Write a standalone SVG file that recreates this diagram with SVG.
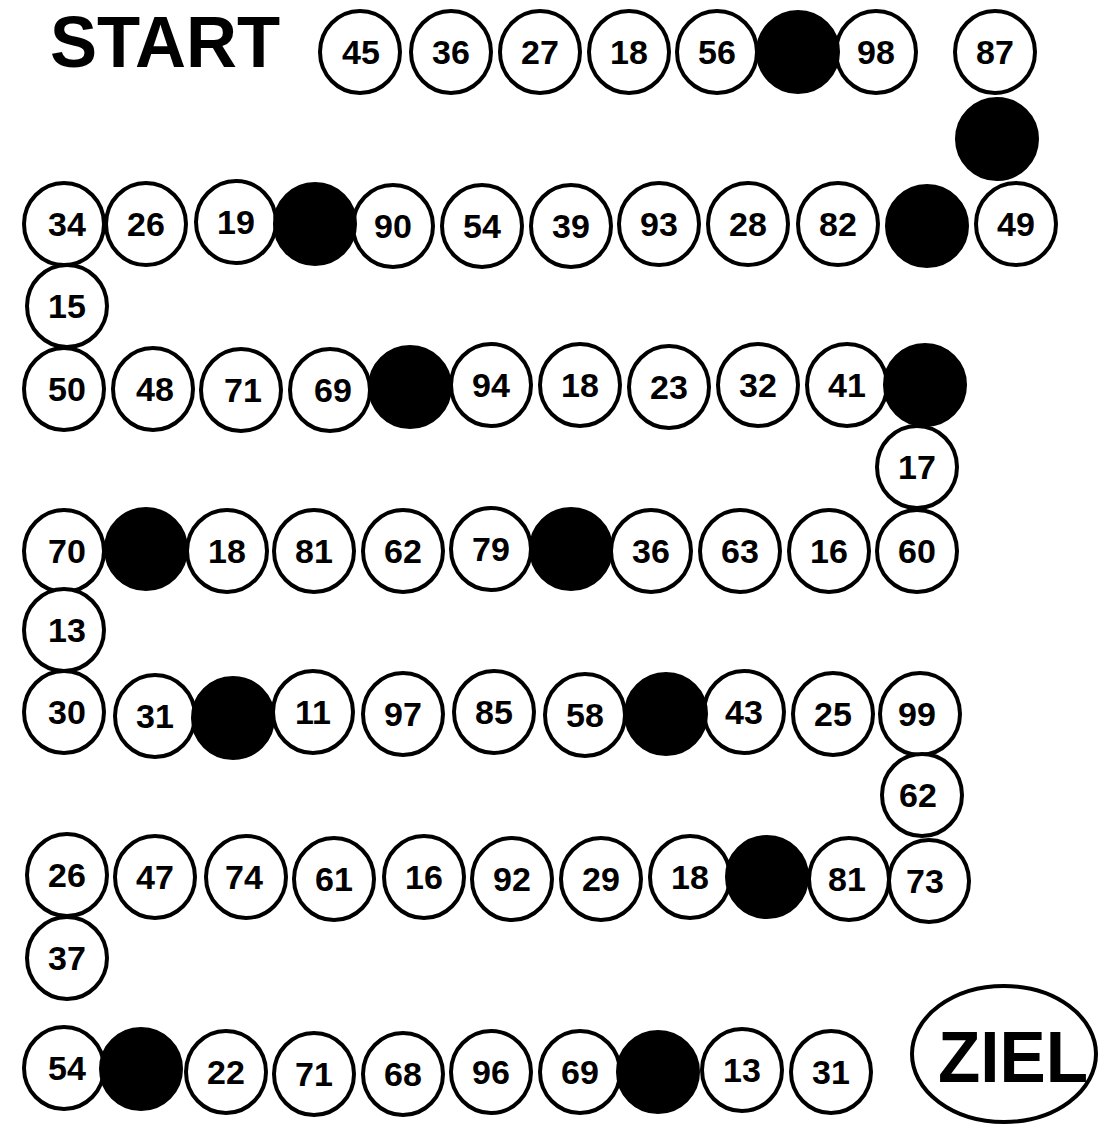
<svg xmlns="http://www.w3.org/2000/svg" width="1100" height="1126" viewBox="0 0 1100 1126">
<style>
.c{fill:#fff;stroke:#000;stroke-width:4}
.b{fill:#000;stroke:#000;stroke-width:2}
.t{font-family:"Liberation Sans",Arial,sans-serif;font-weight:bold;font-size:34px;text-anchor:middle;fill:#000}
.big{font-family:"Liberation Sans",Arial,sans-serif;font-weight:bold;font-size:72px;fill:#000}
</style>
<defs>
<ellipse id="w" class="c" cx="0" cy="0" rx="40" ry="41"/>
<ellipse id="k" class="b" cx="0" cy="0" rx="41" ry="41"/>
</defs>
<text class="big" x="50" y="67" textLength="230" lengthAdjust="spacingAndGlyphs">START</text>
<g id="whites">
<g id="n45" transform="translate(360,52)"><use href="#w"/><text class="t" x="1" y="12">45</text></g>
<g id="n36" transform="translate(451,52)"><use href="#w"/><text class="t" y="12">36</text></g>
<g id="n27" transform="translate(540,52)"><use href="#w"/><text class="t" y="12">27</text></g>
<g id="n18a" transform="translate(629,52)"><use href="#w"/><text class="t" y="12">18</text></g>
<g id="n56" transform="translate(717,52)"><use href="#w"/><text class="t" y="12">56</text></g>
<g id="n98" transform="translate(876,52)"><use href="#w"/><text class="t" y="12">98</text></g>
<g id="n87" transform="translate(995,52)"><use href="#w"/><text class="t" y="12">87</text></g>

<g id="n34" transform="translate(64,224)"><use href="#w"/><text class="t" x="3" y="12">34</text></g>
<g id="n26a" transform="translate(146,224)"><use href="#w"/><text class="t" y="12">26</text></g>
<g id="n19" transform="translate(236,222)"><use href="#w"/><text class="t" y="12">19</text></g>
<g id="n90" transform="translate(393,226)"><use href="#w"/><text class="t" y="12">90</text></g>
<g id="n54a" transform="translate(482,226)"><use href="#w"/><text class="t" y="12">54</text></g>
<g id="n39" transform="translate(571,226)"><use href="#w"/><text class="t" y="12">39</text></g>
<g id="n93" transform="translate(659,224)"><use href="#w"/><text class="t" y="12">93</text></g>
<g id="n28" transform="translate(748,224)"><use href="#w"/><text class="t" y="12">28</text></g>
<g id="n82" transform="translate(838,224)"><use href="#w"/><text class="t" y="12">82</text></g>
<g id="n49" transform="translate(1016,224)"><use href="#w"/><text class="t" y="12">49</text></g>

<g id="n15" transform="translate(67,306)"><use href="#w"/><text class="t" y="12">15</text></g>

<g id="n50" transform="translate(64,389)"><use href="#w"/><text class="t" x="3" y="12">50</text></g>
<g id="n48" transform="translate(153,389)"><use href="#w"/><text class="t" x="2" y="12">48</text></g>
<g id="n71a" transform="translate(241,390)"><use href="#w"/><text class="t" x="2" y="12">71</text></g>
<g id="n69a" transform="translate(330,390)"><use href="#w"/><text class="t" x="3" y="12">69</text></g>
<g id="n94" transform="translate(491,385)"><use href="#w"/><text class="t" y="12">94</text></g>
<g id="n18b" transform="translate(580,385)"><use href="#w"/><text class="t" y="12">18</text></g>
<g id="n23" transform="translate(669,387)"><use href="#w"/><text class="t" y="12">23</text></g>
<g id="n32" transform="translate(758,385)"><use href="#w"/><text class="t" y="12">32</text></g>
<g id="n41" transform="translate(847,385)"><use href="#w"/><text class="t" y="12">41</text></g>

<g id="n17" transform="translate(917,467)"><use href="#w"/><text class="t" y="12">17</text></g>

<g id="n70" transform="translate(64,551)"><use href="#w"/><text class="t" x="3" y="12">70</text></g>
<g id="n18c" transform="translate(227,551)"><use href="#w"/><text class="t" y="12">18</text></g>
<g id="n81a" transform="translate(314,551)"><use href="#w"/><text class="t" y="12">81</text></g>
<g id="n62a" transform="translate(403,551)"><use href="#w"/><text class="t" y="12">62</text></g>
<g id="n79" transform="translate(491,549)"><use href="#w"/><text class="t" y="12">79</text></g>
<g id="n36b" transform="translate(651,551)"><use href="#w"/><text class="t" y="12">36</text></g>
<g id="n63" transform="translate(740,551)"><use href="#w"/><text class="t" y="12">63</text></g>
<g id="n16a" transform="translate(829,551)"><use href="#w"/><text class="t" y="12">16</text></g>
<g id="n60" transform="translate(917,551)"><use href="#w"/><text class="t" y="12">60</text></g>

<g id="n13a" transform="translate(64,630)"><use href="#w"/><text class="t" x="3" y="12">13</text></g>

<g id="n30" transform="translate(64,712)"><use href="#w"/><text class="t" x="3" y="12">30</text></g>
<g id="n31a" transform="translate(155,716)"><use href="#w"/><text class="t" y="12">31</text></g>
<g id="n11" transform="translate(313,712)"><use href="#w"/><text class="t" y="12">11</text></g>
<g id="n97" transform="translate(403,714)"><use href="#w"/><text class="t" y="12">97</text></g>
<g id="n85" transform="translate(494,712)"><use href="#w"/><text class="t" y="12">85</text></g>
<g id="n58" transform="translate(585,715)"><use href="#w"/><text class="t" y="12">58</text></g>
<g id="n43" transform="translate(744,712)"><use href="#w"/><text class="t" y="12">43</text></g>
<g id="n25" transform="translate(833,714)"><use href="#w"/><text class="t" y="12">25</text></g>
<g id="n99" transform="translate(920,714)"><use href="#w"/><text class="t" x="-3" y="12">99</text></g>

<g id="n62b" transform="translate(922,795)"><use href="#w"/><text class="t" x="-4" y="12">62</text></g>

<g id="n26b" transform="translate(67,875)"><use href="#w"/><text class="t" y="12">26</text></g>
<g id="n47" transform="translate(155,877)"><use href="#w"/><text class="t" y="12">47</text></g>
<g id="n74" transform="translate(246,877)"><use href="#w"/><text class="t" x="-2" y="12">74</text></g>
<g id="n61" transform="translate(334,879)"><use href="#w"/><text class="t" y="12">61</text></g>
<g id="n16b" transform="translate(424,877)"><use href="#w"/><text class="t" y="12">16</text></g>
<g id="n92" transform="translate(512,879)"><use href="#w"/><text class="t" y="12">92</text></g>
<g id="n29" transform="translate(601,879)"><use href="#w"/><text class="t" y="12">29</text></g>
<g id="n18d" transform="translate(690,877)"><use href="#w"/><text class="t" y="12">18</text></g>
<g id="n81b" transform="translate(849,879)"><use href="#w"/><text class="t" x="-2" y="12">81</text></g>
<g id="n73" transform="translate(929,881)"><use href="#w"/><text class="t" x="-4" y="12">73</text></g>

<g id="n37" transform="translate(67,958)"><use href="#w"/><text class="t" y="12">37</text></g>

<g id="n54b" transform="translate(64,1068)"><use href="#w"/><text class="t" x="3" y="12">54</text></g>
<g id="n22" transform="translate(226,1072)"><use href="#w"/><text class="t" y="12">22</text></g>
<g id="n71b" transform="translate(314,1074)"><use href="#w"/><text class="t" y="12">71</text></g>
<g id="n68" transform="translate(403,1074)"><use href="#w"/><text class="t" y="12">68</text></g>
<g id="n96" transform="translate(491,1072)"><use href="#w"/><text class="t" y="12">96</text></g>
<g id="n69b" transform="translate(580,1072)"><use href="#w"/><text class="t" y="12">69</text></g>
<g id="n13b" transform="translate(742,1070)"><use href="#w"/><text class="t" y="12">13</text></g>
<g id="n31b" transform="translate(831,1072)"><use href="#w"/><text class="t" y="12">31</text></g>
</g>
<g id="blacks">
<g id="b1" transform="translate(798,52)"><use href="#k"/></g>
<g id="b2" transform="translate(997,139)"><use href="#k"/></g>
<g id="b3" transform="translate(315,224)"><use href="#k"/></g>
<g id="b4" transform="translate(927,226)"><use href="#k"/></g>
<g id="b5" transform="translate(410,387)"><use href="#k"/></g>
<g id="b6" transform="translate(925,385)"><use href="#k"/></g>
<g id="b7" transform="translate(146,549)"><use href="#k"/></g>
<g id="b8" transform="translate(571,549)"><use href="#k"/></g>
<g id="b9" transform="translate(233,718)"><use href="#k"/></g>
<g id="b10" transform="translate(666,714)"><use href="#k"/></g>
<g id="b11" transform="translate(767,877)"><use href="#k"/></g>
<g id="b12" transform="translate(141,1069)"><use href="#k"/></g>
<g id="b13" transform="translate(658,1072)"><use href="#k"/></g>
</g>
<g id="ziel">
<ellipse class="c" cx="1004" cy="1054" rx="92" ry="68"/>
<text class="big" x="1013" y="1082" text-anchor="middle" font-size="70" textLength="150" lengthAdjust="spacingAndGlyphs">ZIEL</text>
</g>
</svg>
